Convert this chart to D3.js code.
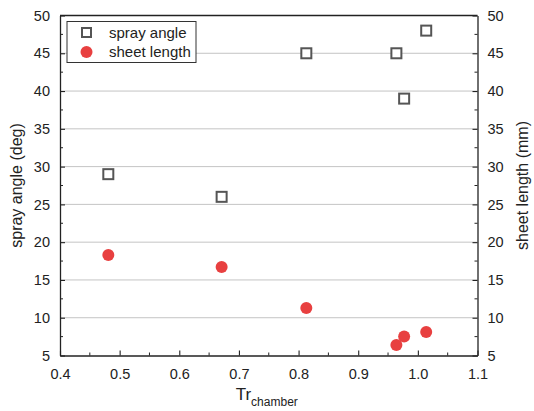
<!DOCTYPE html>
<html><head><meta charset="utf-8">
<script src="https://cdn.jsdelivr.net/npm/d3@7"></script>
<style>body{margin:0;background:#fff}svg{font-family:"Liberation Sans",Arial,sans-serif}</style>
</head><body>
<svg id="c" width="534" height="411"></svg>
<script>
const trValues = [0.481, 0.671, 0.813, 0.964, 0.977, 1.014];
const sprayAngle = [29, 26, 45, 45, 39, 48];
const trSheet = [0.481, 0.671, 0.813, 0.964, 0.977, 1.014];
const sheetLength = [18.3, 16.7, 11.3, 6.4, 7.5, 8.1];
const xTicks = [0.4, 0.5, 0.6, 0.7, 0.8, 0.9, 1.0, 1.1];
const yTicks = [5, 10, 15, 20, 25, 30, 35, 40, 45, 50];
const seriesNames = ["spray angle", "sheet length"];

const svg = d3.select("#c");
const L = 60, R = 477.5, T = 15.5, B = 355.5;
const x = d3.scaleLinear().domain([0.4, 1.1]).range([L, R]);
const yL = d3.scaleLinear().domain([5, 50]).range([B, T]);
const yR = d3.scaleLinear().domain([5, 50]).range([B, T]);
const textCol = "#222";

// grid
svg.append("g").selectAll("line").data(yTicks.filter(d => d > 5 && d < 50)).join("line")
  .attr("x1", L).attr("x2", R).attr("y1", d => yL(d)).attr("y2", d => yL(d))
  .attr("stroke", "#c4c4c4").attr("stroke-width", 1);

function styleAxis(g) {
  g.select(".domain").attr("stroke", "#222").attr("stroke-width", 1.3);
  g.selectAll(".tick line").attr("stroke", "#222").attr("stroke-width", 1.1);
  g.selectAll(".tick text").attr("fill", textCol).style("font-size", "14.5px");
}
const minorY = d3.range(7.5, 50, 5);
const minorX = d3.range(0.45, 1.1, 0.1);

// bottom axis
const gx = svg.append("g").attr("transform", `translate(0,${B})`)
  .call(d3.axisBottom(x).tickValues(xTicks).tickFormat(d3.format(".1f")).tickSize(-5).tickPadding(13).tickSizeOuter(0));
styleAxis(gx);
gx.append("g").selectAll("line").data(minorX).join("line")
  .attr("x1", d => x(d)).attr("x2", d => x(d)).attr("y1", 0).attr("y2", -3).attr("stroke", "#222");

// left axis
const gl = svg.append("g").attr("transform", `translate(${L},0)`)
  .call(d3.axisLeft(yL).tickValues(yTicks).tickSize(-5).tickPadding(10).tickSizeOuter(0));
styleAxis(gl);
gl.append("g").selectAll("line").data(minorY).join("line")
  .attr("y1", d => yL(d)).attr("y2", d => yL(d)).attr("x1", 0).attr("x2", 3).attr("stroke", "#222");

// right axis
const gr = svg.append("g").attr("transform", `translate(${R},0)`)
  .call(d3.axisRight(yR).tickValues(yTicks).tickSize(-5).tickPadding(10).tickSizeOuter(0));
styleAxis(gr);
gr.append("g").selectAll("line").data(minorY).join("line")
  .attr("y1", d => yR(d)).attr("y2", d => yR(d)).attr("x1", 0).attr("x2", -3).attr("stroke", "#222");

// top frame
svg.append("line").attr("x1", L).attr("x2", R).attr("y1", T).attr("y2", T)
  .attr("stroke", "#222").attr("stroke-width", 1.3);

// titles
svg.append("text").attr("transform", `translate(22,${(T + B) / 2}) rotate(-90)`)
  .attr("text-anchor", "middle").attr("fill", textCol).style("font-size", "16px").text("spray angle (deg)");
svg.append("text").attr("transform", `translate(528,${(T + B) / 2}) rotate(-90)`)
  .attr("text-anchor", "middle").attr("fill", textCol).style("font-size", "16px").text("sheet length (mm)");
const xt = svg.append("text").attr("x", (L + R) / 2 - 2).attr("y", 400).attr("text-anchor", "middle")
  .attr("fill", textCol).style("font-size", "17px");
xt.append("tspan").text("Tr");
xt.append("tspan").attr("dy", 6).style("font-size", "12px").text("chamber");

// spray angle squares
const sq = 10;
svg.append("g").selectAll("rect").data(trValues.map((t, i) => [t, sprayAngle[i]])).join("rect")
  .attr("x", d => x(d[0]) - sq / 2).attr("y", d => yL(d[1]) - sq / 2)
  .attr("width", sq).attr("height", sq).attr("fill", "#fff").attr("stroke", "#555").attr("stroke-width", 2);

// sheet length circles
svg.append("g").selectAll("circle").data(trSheet.map((t, i) => [t, sheetLength[i]])).join("circle")
  .attr("cx", d => x(d[0])).attr("cy", d => yR(d[1])).attr("r", 6).attr("fill", "#e84040");

// legend
const lg = svg.append("g");
lg.append("rect").attr("x", 67).attr("y", 21.5).attr("width", 129).attr("height", 41)
  .attr("fill", "#fff").attr("stroke", "#333").attr("stroke-width", 1);
lg.append("rect").attr("x", 82).attr("y", 28).attr("width", 9).attr("height", 9)
  .attr("fill", "#fff").attr("stroke", "#555").attr("stroke-width", 2);
lg.append("circle").attr("cx", 86.5).attr("cy", 52).attr("r", 6).attr("fill", "#e84040");
lg.selectAll("text.l").data(seriesNames).join("text").attr("class", "l")
  .attr("x", 109).attr("y", (d, i) => 38 + i * 19).attr("fill", textCol).style("font-size", "15px").text(d => d);
</script>
</body></html>
